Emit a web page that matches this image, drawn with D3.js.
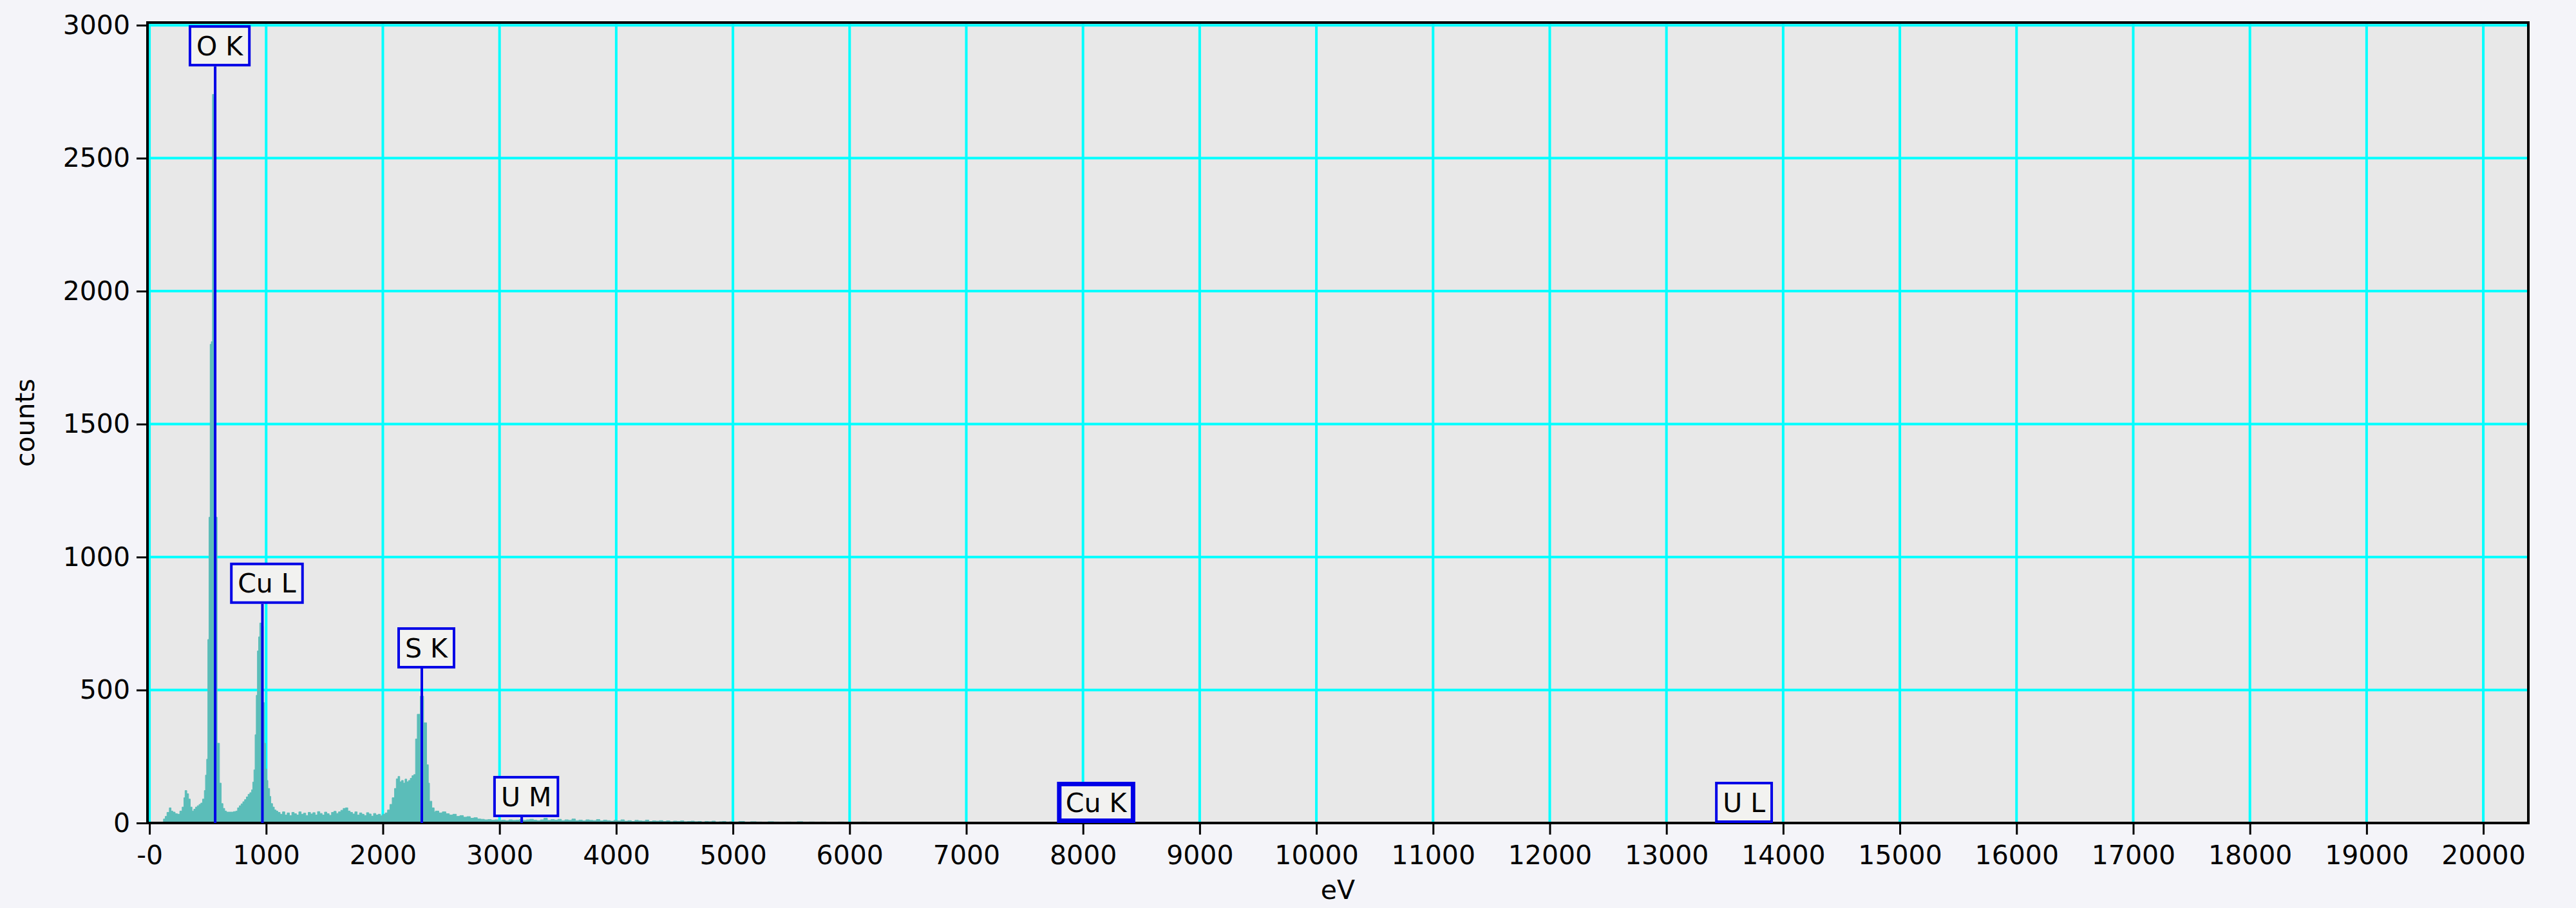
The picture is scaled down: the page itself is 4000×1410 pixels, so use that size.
<!DOCTYPE html>
<html><head><meta charset="utf-8">
<script src="https://cdn.jsdelivr.net/npm/d3@7"></script>
<style>
html,body{margin:0;padding:0;background:#f4f4f9;}
svg{display:block;}
text{font-family:"DejaVu Sans",sans-serif;}
</style></head><body>
<svg id="chart" width="4000" height="1410"></svg>
<script>
// ---------- data ----------
const xTickValues = [0,1000,2000,3000,4000,5000,6000,7000,8000,9000,10000,11000,12000,13000,14000,15000,16000,17000,18000,19000,20000];
const xTickLabels = ["-0","1000","2000","3000","4000","5000","6000","7000","8000","9000","10000","11000","12000","13000","14000","15000","16000","17000","18000","19000","20000"];
const yTickValues = [0,500,1000,1500,2000,2500,3000];
const yTickLabels = ["0","500","1000","1500","2000","2500","3000"];

// spectrum: bin start energy (eV) and counts (step histogram)
const energyEV = [-17,0,110,120,135,150,170,185,200,220,240,260,280,295,305,320,335,350,365,380,395,410,425,440,455,470,480,490,
  500,510,520,530,540,550,560,570,580,590,600,615,630,645,660,680,700,720,740,755,770,785,800,815,830,845,860,875,885,895,
  905,915,925,935,945,955,965,975,985,995,1005,1015,1030,1040,1055,1070,1085,
  1100,1120,1140,1160,1180,1200,1220,1240,1260,1280,1300,1320,1340,1360,1380,1400,1420,1440,1460,1480,1500,1520,1540,1560,1580,
  1600,1620,1640,1660,1680,1700,1720,1740,1760,1780,1800,1820,1840,1860,1880,1900,1920,1940,1960,1980,2000,2020,2040,2060,2080,
  2100,2115,2130,2145,2160,2175,2190,2205,2220,2235,2250,2265,2280,2295,2310,2320,2335,2350,2365,2375,2390,2400,2420,2440,
  2450,2480,2510,2540,2570,2600,2630,2660,2690,2720,2750,2780,2810,2840,2870,2900,2930,2960,2990,3020,3050,3080,3110,3140,3170,
  3200,3230,3260,3290,3320,3350,3380,3410,3440,3470,3500,3530,3560,3590,3620,3650,3680,3710,3740,3770,3800,3830,3860,3890,3920,
  3950,3980,4010,4040,4070,4100,4130,4160,4190,4220,4250,4280,4310,4340,4370,4400,4430,4460,4490,4520,4550,4580,4610,4640,4670,
  4700,4730,4760,4790,4820,4850,4880,4910,4940,4970,5000,5050,5100,5150,5200,5250,5300,5350,5400,5450,5500,5550,5600,5650,5700,
  5750,5800,5850,5900,5950,6000,6050,6100,6150,6200,6250,6300,6350,6400,6450,6500,6550,6600,6650,6700,6750,6800,6850,6900,6950,
  7000,7100,7200,7300,7400,20386];
const countsY = [0,0,0,15,25,40,57,45,41,35,33,45,60,95,122,110,90,60,45,52,60,65,70,75,90,122,180,240,
  690,1150,1800,1810,2740,2730,1160,1150,300,300,150,73,55,45,41,41,41,43,45,57,65,72,80,88,98,108,114,125,154,200,
  332,480,647,700,752,752,740,453,300,203,160,130,100,73,60,49,45,
  40,33,42,30,38,28,40,35,30,42,33,37,28,40,34,39,30,43,36,30,41,35,29,40,44,
  36,42,48,55,57,45,40,34,42,30,38,33,28,39,34,26,36,30,33,27,33,38,49,70,95,
  130,166,175,155,160,150,165,155,160,168,178,182,316,409,409,477,477,377,377,219,150,82,57,41,
  45,38,42,35,30,33,25,28,22,24,18,20,15,14,12,13,11,12,10,11,9,12,10,11,13,
  10,12,14,11,9,12,18,10,13,11,14,9,12,10,15,9,11,8,12,10,9,13,8,11,9,
  7,10,8,12,7,9,6,10,8,7,11,6,8,7,9,6,8,5,7,6,8,5,6,7,5,
  6,4,6,5,7,4,5,6,4,5,4,6,3,5,4,3,5,4,3,4,3,5,3,4,2,
  4,3,2,4,3,2,3,4,2,3,2,3,2,2,3,1,2,2,1,2,1,2,1,1,2,
  1,1,1,1,0,0];

// peak markers
const peakNames = ["O K","Cu L","S K","U M","Cu K","U L"];
const peakEV = [563, 968, 2334, 3190, 8074, 13626];
const peakLabelCounts = [2845, 824, 581, 22, 0, 0];

// ---------- layout ----------
const W = 4000, H = 1410;
const L = 229, R = 3926, T = 35, B = 1278;
const svg = d3.select("#chart");
svg.append("rect").attr("width", W).attr("height", H).attr("fill", "#f4f4f9");

const x = d3.scaleLinear().domain([-17, 20386]).range([L, R]);
const y = d3.scaleLinear().domain([0, 3010]).range([B, T]);

svg.append("rect").attr("x", L).attr("y", T).attr("width", R - L).attr("height", B - T).attr("fill", "#e8e8e8");

// grid
const grid = svg.append("g");
grid.selectAll("line.v").data(xTickValues).join("line")
  .attr("x1", d => x(d)).attr("x2", d => x(d)).attr("y1", T).attr("y2", B)
  .attr("stroke", "#00ffff").attr("stroke-width", 4);
grid.selectAll("line.h").data(yTickValues).join("line")
  .attr("x1", L).attr("x2", R).attr("y1", d => y(d)).attr("y2", d => y(d))
  .attr("stroke", "#00ffff").attr("stroke-width", 4);

// spectrum
const pts = energyEV.map((e, i) => [e, countsY[i]]);
const area = d3.area().x(d => x(d[0])).y0(y(0)).y1(d => y(d[1])).curve(d3.curveStepAfter);
svg.append("path").datum(pts).attr("d", area).attr("fill", "#5bbdb9").attr("stroke", "#5bbdb9").attr("stroke-width", 1);

// axes
const fontSize = 41;
const xAxis = d3.axisBottom(x).tickValues(xTickValues).tickFormat((d, i) => xTickLabels[i]).tickSize(18).tickPadding(17);
const gx = svg.append("g").attr("transform", `translate(0,${B})`).call(xAxis);
const yAxis = d3.axisLeft(y).tickValues(yTickValues).tickFormat((d, i) => yTickLabels[i]).tickSize(17).tickPadding(10);
const gy = svg.append("g").attr("transform", `translate(${L},0)`).call(yAxis);
[gx, gy].forEach(g => {
  g.select(".domain").remove();
  g.selectAll(".tick line").attr("stroke", "#000").attr("stroke-width", 3);
  g.selectAll(".tick text").attr("fill", "#000").style("font-size", fontSize + "px").style("font-family", "DejaVu Sans");
});

// frame
svg.append("rect").attr("x", L).attr("y", T).attr("width", R - L).attr("height", B - T)
  .attr("fill", "none").attr("stroke", "#000").attr("stroke-width", 4);

// axis titles
svg.append("text").attr("x", (L + R) / 2).attr("y", 1396).attr("text-anchor", "middle")
  .style("font-size", fontSize + "px").text("eV");
svg.append("text").attr("transform", `translate(53,${(T + B) / 2}) rotate(-90)`).attr("text-anchor", "middle")
  .style("font-size", fontSize + "px").text("counts");

// peak labels
const boxH = 64, pad = 10;
peakNames.forEach((name, i) => {
  const lx = x(peakEV[i]);
  const bottom = Math.min(y(peakLabelCounts[i]), B);
  const top = Math.max(bottom - boxH, T + 2);
  const bot = top + boxH;
  const g = svg.append("g");
  if (bot < B) {
    g.append("line").attr("x1", lx).attr("x2", lx).attr("y1", bot).attr("y2", B)
      .attr("stroke", "#0000e6").attr("stroke-width", 4);
  }
  const t = g.append("text").attr("x", lx + 7).attr("y", top + boxH / 2).attr("dy", "0.36em")
    .attr("text-anchor", "middle").style("font-size", fontSize + "px").attr("fill", "#000").text(name);
  const tw = t.node().getComputedTextLength();
  const bw = tw + 2 * pad;
  const sw = name === "Cu K" ? 7 : 4;
  g.insert("rect", "text").attr("x", lx + 7 - bw / 2).attr("y", top + sw / 2).attr("width", bw).attr("height", boxH - sw)
    .attr("fill", "#f2f2f0").attr("stroke", "#0000e6").attr("stroke-width", sw);
});
</script>
</body></html>
